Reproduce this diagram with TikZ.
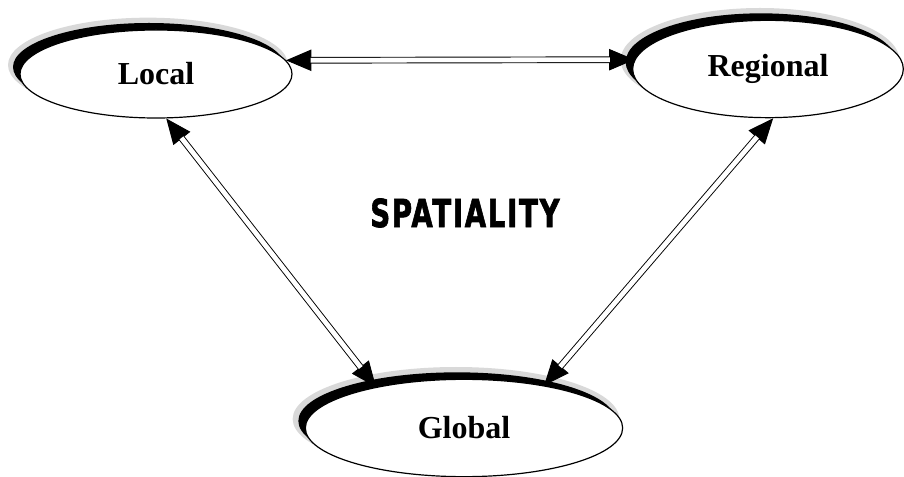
\documentclass[tikz,border=0pt]{standalone}
\usepackage{fontspec}
\setmainfont{Liberation Serif}
\newfontfamily\spatfont[FakeBold=2,LetterSpace=6]{DejaVu Sans}
\usetikzlibrary{shapes.geometric,arrows.meta}
\tikzset{
  oval/.style={ellipse, inner sep=0pt, draw=black, line width=0.9pt, fill=white,
    font=\fontsize{24}{28}\selectfont\bfseries},
  shadowblack/.style={ellipse, inner sep=0pt, fill=black},
  shadowgrey/.style={ellipse, inner sep=0pt, fill=gray!30},
  tips/.style={line width=0.7pt,
    {Triangle[length=19pt,width=16pt]}-{Triangle[length=19pt,width=16pt]}},
  shaft/.style={double=white, double distance=3.6pt, line width=0.7pt,
    shorten <=18.5pt, shorten >=18.5pt},
}
\begin{document}
\begin{tikzpicture}[x=0.75pt,y=-0.75pt]
\useasboundingbox (0,0) rectangle (904,477);
% Local
\node[shadowgrey, minimum width=210pt, minimum height=71pt] at (148,65) {};
\node[shadowblack, minimum width=204pt, minimum height=66pt] at (149,67) {};
\node[oval, minimum width=204pt, minimum height=66pt] (L) at (156,74) {Local};
% Regional
\node[shadowgrey, minimum width=209pt, minimum height=78pt] at (760,60) {};
\node[shadowblack, minimum width=203pt, minimum height=73pt] at (761,62) {};
\node[oval, minimum width=203pt, minimum height=73pt] (R) at (768,69) {Regional};
% Global
\node[shadowgrey, minimum width=245pt, minimum height=78pt] at (456,419) {};
\node[shadowblack, minimum width=238pt, minimum height=73pt] at (457,421) {};
\node[oval, minimum width=238pt, minimum height=73pt] (G) at (464,428) {Global};
% centre label
\node (S) at (465,213) {\resizebox{142pt}{21.5pt}{\spatfont\bfseries SPATIALITY}};
% connectors
\draw[tips] (L.6) -- (R.176);
\draw[shaft] (L.6) -- (R.176);
\draw[tips] (L.-77) -- (G.155);
\draw[shaft] (L.-77) -- (G.155);
\draw[tips] (R.-84) -- (G.28);
\draw[shaft] (R.-84) -- (G.28);
\end{tikzpicture}
\end{document}
